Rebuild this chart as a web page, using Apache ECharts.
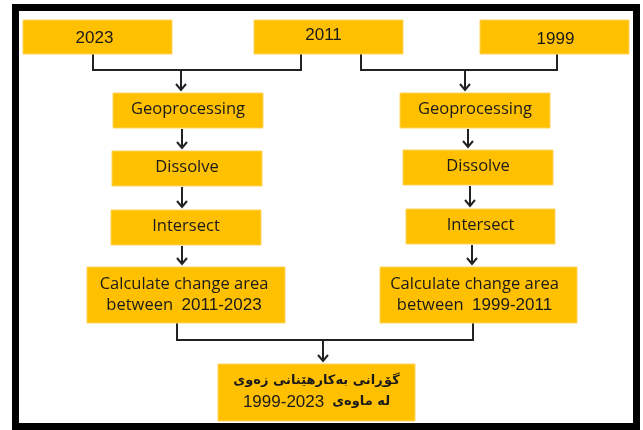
<!DOCTYPE html>
<html>
<head>
<meta charset="utf-8">
<script src="https://cdn.jsdelivr.net/npm/echarts@6/dist/echarts.min.js"></script>
<style>
html,body{margin:0;padding:0;background:#fff;}
#chart{width:643px;height:430px;}
</style>
</head>
<body>
<div id="chart"></div>
<script>
// ---- Flowchart content ----
const nodeLabels = [
  '2023', '2011', '1999',
  'Geoprocessing', 'Dissolve', 'Intersect',
  ['Calculate change area', 'between', '2011-2023'],
  'Geoprocessing', 'Dissolve', 'Intersect',
  ['Calculate change area', 'between', '1999-2011'],
  ['گۆڕانی بەکارهێنانی زەوی', 'لە ماوەی', '1999-2023']
];
const nodeKinds = ['year','year','year','step','step','step','calc','step','step','step','calc','final'];
// node boxes in axis units: [x0, y0, x1, y1]
const nodeBoxes = [
  [23, 20, 172, 54], [254, 20, 403, 54], [480, 20, 629, 54],
  [113, 93, 263, 128], [112, 151, 262, 186], [111, 210, 261, 245], [87, 267, 285, 323],
  [400, 93, 550, 128], [403, 150, 553, 185], [406, 209, 555, 244], [380, 267, 577, 323],
  [218, 364, 415, 421]
];
const labelShift = [[-3, 1], [-5, -2], [1, 2], [0, -1], [0, -1], [0, -1], [-2, 0], [0, -1], [0, -1], [0, -1], [-4, 0], [0, -1]];
// elbow connectors: [xa, ya, xb, yb, yMid]
const connectors = [
  [93, 54, 301, 54, 70],
  [361, 54, 557, 54, 70],
  [177, 323, 473, 323, 340]
];
// arrows: [x, yStart, yEnd]
const arrows = [
  [181, 70, 91], [465, 70, 91],
  [182, 129, 149], [182, 187, 208], [182, 246, 265],
  [468, 129, 148], [470, 186, 207], [472, 245, 265],
  [323, 340, 362]
];
const frame = [[15.5, 7.5, 636.5, 426.5]];

const stepFont = '16.5px "Open Sans", Lato, sans-serif';
const numFont = '17px "Liberation Sans", Arial, sans-serif';
const arFont = 'bold 13px "DejaVu Sans", sans-serif';
const ink = '#1a1a1a';

function labelFor(i) {
  const kind = nodeKinds[i];
  const l = nodeLabels[i];
  if (kind === 'year') return { text: l, font: numFont };
  if (kind === 'step') return { text: l, font: stepFont };
  if (kind === 'calc') {
    return {
      text: '{c|' + l[0] + '}\n{c|' + l[1] + '  }{n|' + l[2] + '}',
      rich: {
        c: { font: stepFont, fill: ink, lineHeight: 21 },
        n: { font: numFont, fill: ink, lineHeight: 21 }
      }
    };
  }
  return {
    text: '{a|' + l[0] + '}\n{n|' + l[2] + '}{s| }{a|' + l[1] + '}',
    rich: {
      a: { font: arFont, fill: ink, lineHeight: 21 },
      n: { font: numFont, fill: ink, lineHeight: 21 },
      s: { font: numFont, fill: ink, lineHeight: 21, width: 8 }
    }
  };
}

const chart = echarts.init(document.getElementById('chart'), null, { renderer: 'canvas' });
chart.setOption({
  animation: false,
  backgroundColor: '#ffffff',
  grid: { left: 0, right: 0, top: 0, bottom: 0 },
  xAxis: { type: 'value', min: 0, max: 643, show: false },
  yAxis: { type: 'value', min: 0, max: 430, inverse: true, show: false },
  series: [
    {
      type: 'custom', coordinateSystem: 'cartesian2d', silent: true,
      data: frame,
      renderItem: function (params, api) {
        const a = api.coord([api.value(0), api.value(1)]);
        const b = api.coord([api.value(2), api.value(3)]);
        return { type: 'rect', shape: { x: a[0], y: a[1], width: b[0] - a[0], height: b[1] - a[1] },
          style: { fill: 'none', stroke: '#000', lineWidth: 7 } };
      }
    },
    {
      type: 'custom', coordinateSystem: 'cartesian2d', silent: true,
      data: connectors,
      renderItem: function (params, api) {
        const xa = api.value(0), ya = api.value(1), xb = api.value(2), yb = api.value(3), ym = api.value(4);
        const pts = [[xa, ya], [xa, ym], [xb, ym], [xb, yb]].map(p => api.coord(p));
        return { type: 'polyline', shape: { points: pts }, style: { fill: 'none', stroke: '#222', lineWidth: 2 } };
      }
    },
    {
      type: 'custom', coordinateSystem: 'cartesian2d', silent: true,
      data: arrows,
      renderItem: function (params, api) {
        const x = api.value(0);
        const s = api.coord([x, api.value(1)]);
        const e = api.coord([x, api.value(2)]);
        return { type: 'group', children: [
          { type: 'line', shape: { x1: s[0], y1: s[1], x2: e[0], y2: e[1] - 1 }, style: { stroke: '#222', lineWidth: 2 } },
          { type: 'polyline', shape: { points: [[e[0] - 5, e[1] - 7], [e[0], e[1] - 1], [e[0] + 5, e[1] - 7]] },
            style: { fill: 'none', stroke: '#222', lineWidth: 2 } }
        ] };
      }
    },
    {
      type: 'custom', coordinateSystem: 'cartesian2d', silent: true,
      data: nodeBoxes,
      renderItem: function (params, api) {
        const i = params.dataIndex;
        const a = api.coord([api.value(0), api.value(1)]);
        const b = api.coord([api.value(2), api.value(3)]);
        const lab = labelFor(i);
        const sh = labelShift[i];
        return { type: 'group', children: [
          { type: 'rect', shape: { x: a[0], y: a[1], width: b[0] - a[0], height: b[1] - a[1] },
            style: { fill: '#FFC000', stroke: '#FFD45A', lineWidth: 1 } },
          { type: 'text', x: (a[0] + b[0]) / 2 + sh[0], y: (a[1] + b[1]) / 2 + sh[1],
            style: Object.assign({ fill: ink, align: 'center', verticalAlign: 'middle' }, lab) }
        ] };
      }
    }
  ]
});
</script>
</body>
</html>
